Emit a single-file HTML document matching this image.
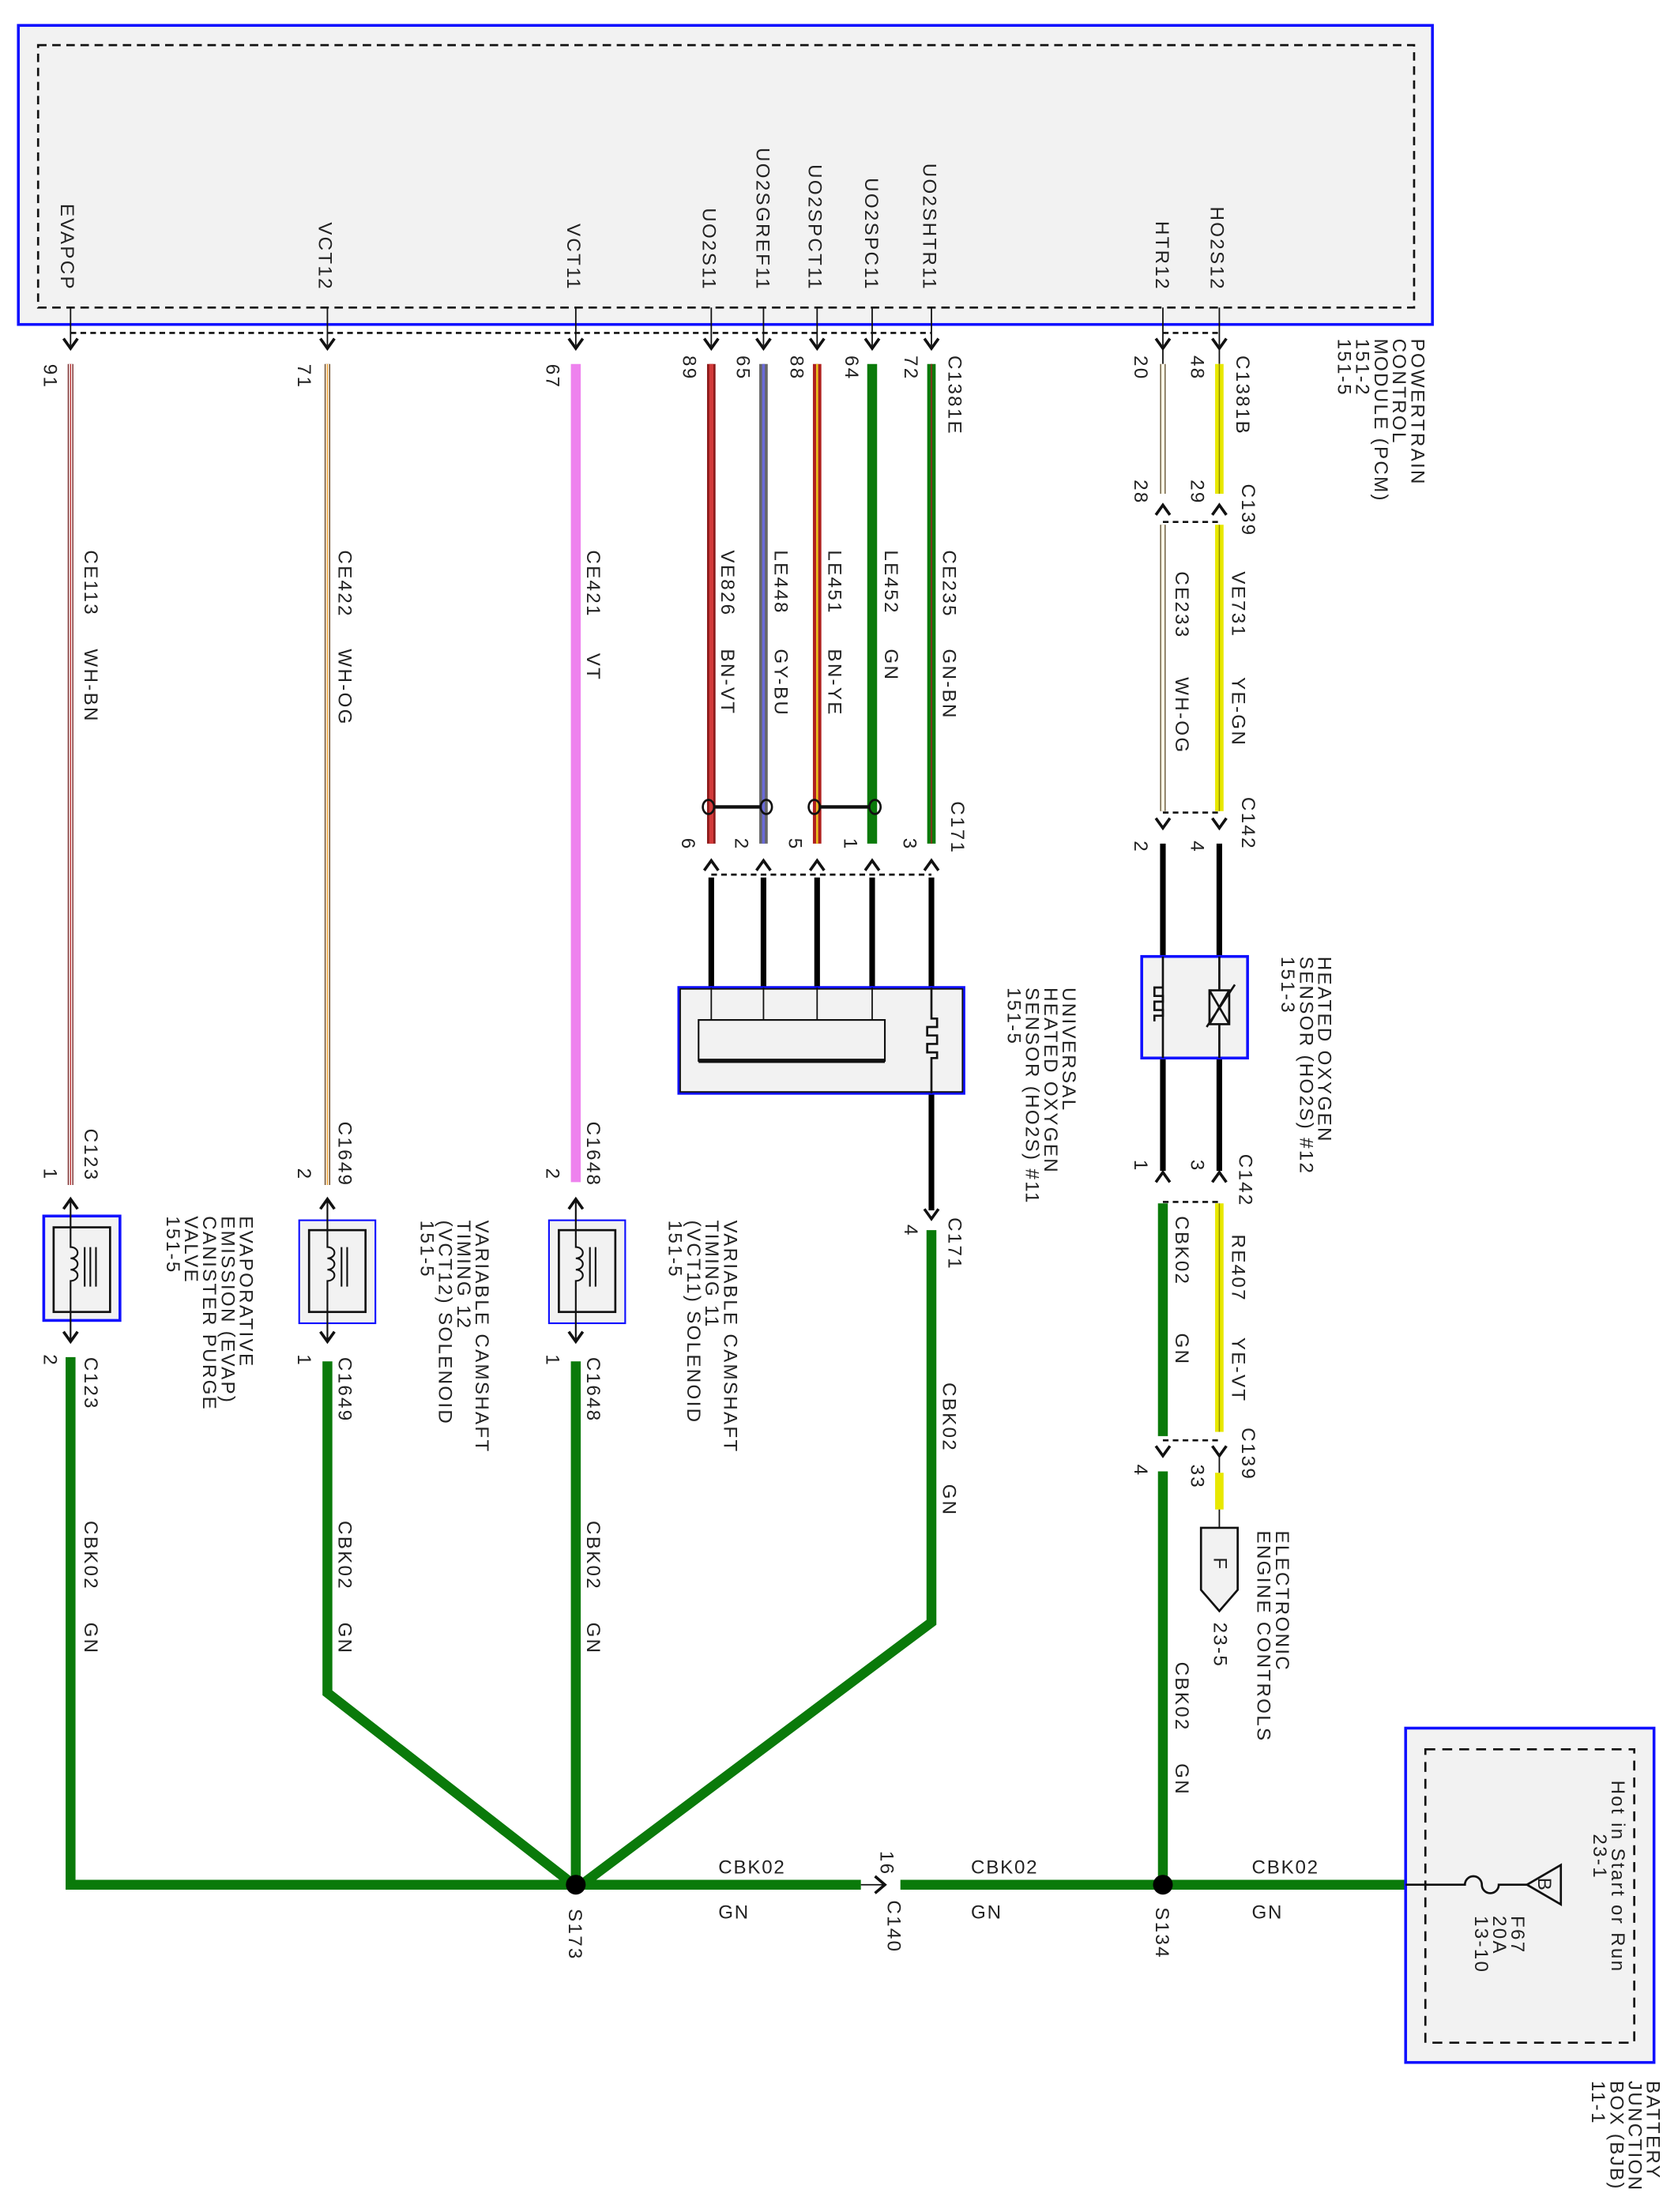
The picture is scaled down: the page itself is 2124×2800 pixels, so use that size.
<!DOCTYPE html>
<html><head><meta charset="utf-8"><style>
html,body{margin:0;padding:0;background:#fff;}
svg{display:block;}
text{font-family:"Liberation Sans",sans-serif;font-size:13.5px;fill:#222;letter-spacing:1.3px;}
text.h{letter-spacing:1px;font-size:13.5px;}
</style></head><body>
<svg width="2124" height="2800" viewBox="0 0 1189 1568" preserveAspectRatio="none" xmlns="http://www.w3.org/2000/svg">
<rect x="13" y="18" width="1002" height="212" fill="#f2f2f2" stroke="#1010ff" stroke-width="2"/>
<rect x="27" y="32" width="975" height="186" fill="none" stroke="#111" stroke-width="1.5" stroke-dasharray="6,4"/>
<g text-anchor="end">
<text transform="translate(43,206) rotate(90)">EVAPCP</text>
<text transform="translate(226,206) rotate(90)">VCT12</text>
<text transform="translate(402,206) rotate(90)">VCT11</text>
<text transform="translate(498,206) rotate(90)">UO2S11</text>
<text transform="translate(536,206) rotate(90)">UO2SGREF11</text>
<text transform="translate(573,206) rotate(90)">UO2SPCT11</text>
<text transform="translate(613,206) rotate(90)">UO2SPC11</text>
<text transform="translate(654,206) rotate(90)">UO2SHTR11</text>
<text transform="translate(819,206) rotate(90)">HTR12</text>
<text transform="translate(858,206) rotate(90)">HO2S12</text>
</g>
<g stroke="#111" stroke-width="1">
<line x1="50" y1="218" x2="50" y2="245"/><line x1="232" y1="218" x2="232" y2="245"/><line x1="408" y1="218" x2="408" y2="245"/>
<line x1="504" y1="218" x2="504" y2="245"/><line x1="541" y1="218" x2="541" y2="245"/><line x1="579" y1="218" x2="579" y2="245"/>
<line x1="618" y1="218" x2="618" y2="245"/><line x1="660" y1="218" x2="660" y2="245"/><line x1="824" y1="218" x2="824" y2="245"/><line x1="864" y1="218" x2="864" y2="245"/>
</g>
<g fill="none" stroke="#111" stroke-width="1.5" stroke-dasharray="4,3">
<line x1="50" y1="236" x2="660" y2="236"/><line x1="824" y1="236" x2="864" y2="236"/>
<line x1="824" y1="370" x2="864" y2="370"/><line x1="824" y1="576" x2="864" y2="576"/>
<line x1="504" y1="620" x2="660" y2="620"/>
<line x1="824" y1="852" x2="864" y2="852"/><line x1="824" y1="1021" x2="864" y2="1021"/>
</g>
<g fill="none" stroke="#111" stroke-width="2">
<path d="M45 240 L50 247 L55 240 M227 240 L232 247 L237 240 M403 240 L408 247 L413 240 M499 240 L504 247 L509 240 M536 240 L541 247 L546 240 M574 240 L579 247 L584 240 M613 240 L618 247 L623 240 M655 240 L660 247 L665 240 M819 240 L824 247 L829 240 M859 240 L864 247 L869 240"/>
<path d="M819 365 L824 358 L829 365 M859 365 L864 358 L869 365"/>
<path d="M819 580 L824 587 L829 580 M859 580 L864 587 L869 580"/>
<path d="M499 617 L504 610 L509 617 M536 617 L541 610 L546 617 M574 617 L579 610 L584 617 M613 617 L618 610 L623 617 M655 617 L660 610 L665 617"/>
<path d="M655 857 L660 864 L665 857"/>
<path d="M819 838 L824 831 L829 838 M859 838 L864 831 L869 838"/>
<path d="M819 1025 L824 1032 L829 1025 M859 1025 L864 1032 L869 1025"/>
<path d="M45 857 L50 850 L55 857 M227 857 L232 850 L237 857 M403 857 L408 850 L413 857"/>
<path d="M45 944 L50 951 L55 944 M227 944 L232 951 L237 944 M403 944 L408 951 L413 944"/>
</g>
<g stroke="#111" stroke-width="1"><line x1="824" y1="247" x2="824" y2="258"/><line x1="864" y1="247" x2="864" y2="258"/></g>
<line x1="50" y1="258" x2="50" y2="840" stroke="#7a2a2a" stroke-width="4"/>
<line x1="50" y1="258" x2="50" y2="840" stroke="#fff" stroke-width="2.4"/>
<line x1="50" y1="258" x2="50" y2="840" stroke="#b33" stroke-width="0.8"/>
<line x1="232" y1="258" x2="232" y2="840" stroke="#6a4a2a" stroke-width="4"/>
<line x1="232" y1="258" x2="232" y2="840" stroke="#fffdf5" stroke-width="2.4"/>
<line x1="232" y1="258" x2="232" y2="840" stroke="#f0a030" stroke-width="0.8"/>
<line x1="408" y1="258" x2="408" y2="838" stroke="#ee82ee" stroke-width="7"/>
<line x1="504" y1="258" x2="504" y2="598" stroke="#8b1a1a" stroke-width="6"/>
<line x1="504" y1="258" x2="504" y2="598" stroke="#d23a3a" stroke-width="3"/>
<line x1="541" y1="258" x2="541" y2="598" stroke="#666" stroke-width="6"/>
<line x1="541" y1="258" x2="541" y2="598" stroke="#6a6ad8" stroke-width="2"/>
<line x1="579" y1="258" x2="579" y2="598" stroke="#b02020" stroke-width="6"/>
<line x1="579" y1="258" x2="579" y2="598" stroke="#e8c020" stroke-width="1.5"/>
<line x1="618" y1="258" x2="618" y2="598" stroke="#0a7a0a" stroke-width="7"/>
<line x1="660" y1="258" x2="660" y2="598" stroke="#0a7a0a" stroke-width="6"/>
<line x1="660" y1="258" x2="660" y2="598" stroke="#7a3a1a" stroke-width="1.2"/>
<line x1="824" y1="258" x2="824" y2="350" stroke="#6a5a3a" stroke-width="4"/>
<line x1="824" y1="258" x2="824" y2="350" stroke="#fff8e8" stroke-width="2.4"/>
<line x1="864" y1="258" x2="864" y2="350" stroke="#e8e800" stroke-width="6"/>
<line x1="864" y1="258" x2="864" y2="350" stroke="#8a8a00" stroke-width="0.8"/>
<line x1="824" y1="372" x2="824" y2="575" stroke="#6a5a3a" stroke-width="4"/>
<line x1="824" y1="372" x2="824" y2="575" stroke="#fff8e8" stroke-width="2.4"/>
<line x1="864" y1="372" x2="864" y2="575" stroke="#e8e800" stroke-width="6"/>
<line x1="864" y1="372" x2="864" y2="575" stroke="#8a8a00" stroke-width="0.8"/>
<g fill="none" stroke="#111" stroke-width="1.5">
<ellipse cx="502" cy="572" rx="4" ry="5"/><ellipse cx="543" cy="572" rx="4" ry="5"/><line x1="506" y1="572" x2="539" y2="572" stroke-width="2.5"/>
<ellipse cx="577" cy="572" rx="4" ry="5"/><ellipse cx="620" cy="572" rx="4" ry="5"/><line x1="581" y1="572" x2="616" y2="572" stroke-width="2.5"/>
</g>
<g stroke="#000" stroke-width="4">
<line x1="504" y1="622" x2="504" y2="700"/><line x1="541" y1="622" x2="541" y2="700"/><line x1="579" y1="622" x2="579" y2="700"/><line x1="618" y1="622" x2="618" y2="700"/><line x1="660" y1="622" x2="660" y2="700"/>
<line x1="660" y1="775" x2="660" y2="858"/>
<line x1="824" y1="598" x2="824" y2="678"/><line x1="864" y1="598" x2="864" y2="678"/>
<line x1="824" y1="750" x2="824" y2="830"/><line x1="864" y1="750" x2="864" y2="830"/>
</g>
<rect x="481" y="700" width="202" height="75" fill="#f2f2f2" stroke="#1010ff" stroke-width="2"/>
<rect x="482" y="701" width="200" height="73" fill="none" stroke="#111" stroke-width="1"/>
<rect x="495" y="723" width="132" height="29" fill="#f2f2f2" stroke="#111" stroke-width="1.2"/>
<line x1="495" y1="752" x2="627" y2="752" stroke="#111" stroke-width="3"/>
<g stroke="#111" stroke-width="1" fill="none">
<line x1="504" y1="700" x2="504" y2="723"/><line x1="541" y1="700" x2="541" y2="723"/><line x1="579" y1="700" x2="579" y2="723"/><line x1="618" y1="700" x2="618" y2="723"/>
<path d="M660 700 L660 722 L664 722 L664 728 L657 728 L657 734 L664 734 L664 740 L657 740 L657 746 L664 746 L664 750 L660 750 L660 775" stroke-width="1.5"/>
</g>
<rect x="809" y="678" width="75" height="72" fill="#f2f2f2" stroke="#1010ff" stroke-width="2"/>
<g stroke="#111" stroke-width="1.5" fill="none">
<line x1="824" y1="678" x2="824" y2="750"/><line x1="864" y1="678" x2="864" y2="750"/>
<path d="M824 700 L818 700 L818 706 L824 706 L824 710 L818 710 L818 716 L824 716 L824 720 L818 720 L818 724"/>
<rect x="857" y="702" width="14" height="24" fill="#f2f2f2"/>
<path d="M857 702 L871 726 M871 702 L857 726 M855 728 L875 698"/>
</g>
<polyline points="660,872 660,1150 412,1336" fill="none" stroke="#0a7a0a" stroke-width="7"/>
<line x1="824" y1="853" x2="824" y2="1018" stroke="#0a7a0a" stroke-width="7"/>
<line x1="864" y1="853" x2="864" y2="1015" stroke="#e8e800" stroke-width="6"/>
<line x1="864" y1="853" x2="864" y2="1015" stroke="#8a8a00" stroke-width="0.8"/>
<line x1="864" y1="1044" x2="864" y2="1070" stroke="#e8e800" stroke-width="6"/>
<line x1="864" y1="1032" x2="864" y2="1044" stroke="#111" stroke-width="1"/>
<line x1="864" y1="1070" x2="864" y2="1083" stroke="#111" stroke-width="1"/>
<path d="M851 1083 L877 1083 L877 1127 L864 1142 L851 1127 Z" fill="#f2f2f2" stroke="#111" stroke-width="1.5"/>
<text transform="translate(860,1104) rotate(90)">F</text>
<line x1="824" y1="1043" x2="824" y2="1336" stroke="#0a7a0a" stroke-width="7"/>
<rect x="31" y="862" width="54" height="74" fill="#f2f2f2" stroke="#1010ff" stroke-width="2"/>
<rect x="38" y="870" width="40" height="60" fill="#f2f2f2" stroke="#111" stroke-width="1.5"/>
<rect x="212" y="865" width="54" height="73" fill="#f2f2f2" stroke="#1010ff" stroke-width="1.2"/>
<rect x="219" y="872" width="40" height="58" fill="#f2f2f2" stroke="#111" stroke-width="1.5"/>
<rect x="389" y="865" width="54" height="73" fill="#f2f2f2" stroke="#1010ff" stroke-width="1.2"/>
<rect x="396" y="872" width="40" height="58" fill="#f2f2f2" stroke="#111" stroke-width="1.5"/>
<g fill="none" stroke="#111" stroke-width="1.2">
<path d="M50 850 L50 884 a5 4 0 0 1 0 8 a5 4 0 0 1 0 8 a5 4 0 0 1 0 8 L50 951"/><path d="M60 884 L60 912 M64 884 L64 912 M68 884 L68 912"/>
<path d="M232 850 L232 884 a5 4 0 0 1 0 8 a5 4 0 0 1 0 8 a5 4 0 0 1 0 8 L232 951"/><path d="M242 884 L242 912 M246 884 L246 912"/>
<path d="M408 850 L408 884 a5 4 0 0 1 0 8 a5 4 0 0 1 0 8 a5 4 0 0 1 0 8 L408 951"/><path d="M418 884 L418 912 M422 884 L422 912"/>
</g>
<g fill="none" stroke="#0a7a0a" stroke-width="7">
<polyline points="50,962 50,1336 404,1336"/>
<polyline points="232,965 232,1200 404,1334"/>
<line x1="408" y1="965" x2="408" y2="1336"/>
<line x1="412" y1="1336" x2="610" y2="1336"/>
<line x1="638" y1="1336" x2="996" y2="1336"/>
</g>
<path d="M620 1330 L627 1336 L620 1342" fill="none" stroke="#111" stroke-width="2"/>
<line x1="610" y1="1336" x2="627" y2="1336" stroke="#111" stroke-width="1"/>
<circle cx="408" cy="1336" r="7" fill="#000"/>
<circle cx="824" cy="1336" r="7" fill="#000"/>
<rect x="996" y="1225" width="176" height="237" fill="#f2f2f2" stroke="#1010ff" stroke-width="2"/>
<rect x="1010" y="1240" width="148" height="208" fill="none" stroke="#111" stroke-width="1.5" stroke-dasharray="7,5"/>
<g fill="none" stroke="#111" stroke-width="1.5">
<path d="M996 1336 L1038 1336 a6 6 0 0 1 12 0 a6 6 0 0 0 12 0 L1082 1336"/>
<path d="M1082 1336 L1106 1322 L1106 1350 Z" fill="#f2f2f2"/>
</g>
<text transform="translate(1090,1331) rotate(90)" font-size="11">B</text>
<g>
<text transform="translate(1000,240) rotate(90)">POWERTRAIN</text>
<text transform="translate(987,240) rotate(90)">CONTROL</text>
<text transform="translate(974,240) rotate(90)">MODULE (PCM)</text>
<text transform="translate(961,240) rotate(90)">151-2</text>
<text transform="translate(948,240) rotate(90)">151-5</text>
<text transform="translate(31,258) rotate(90)">91</text>
<text transform="translate(211,258) rotate(90)">71</text>
<text transform="translate(387,258) rotate(90)">67</text>
<text transform="translate(484,252) rotate(90)">89</text>
<text transform="translate(522,252) rotate(90)">65</text>
<text transform="translate(560,252) rotate(90)">88</text>
<text transform="translate(599,252) rotate(90)">64</text>
<text transform="translate(641,252) rotate(90)">72</text>
<text transform="translate(672,252) rotate(90)">C1381E</text>
<text transform="translate(804,252) rotate(90)">20</text>
<text transform="translate(844,252) rotate(90)">48</text>
<text transform="translate(876,252) rotate(90)">C1381B</text>
<text transform="translate(804,340) rotate(90)">28</text>
<text transform="translate(844,340) rotate(90)">29</text>
<text transform="translate(880,343) rotate(90)">C139</text>
<text transform="translate(60,390) rotate(90)">CE113</text><text transform="translate(60,460) rotate(90)">WH-BN</text>
<text transform="translate(240,390) rotate(90)">CE422</text><text transform="translate(240,460) rotate(90)">WH-OG</text>
<text transform="translate(416,390) rotate(90)">CE421</text><text transform="translate(416,463) rotate(90)">VT</text>
<text transform="translate(511,390) rotate(90)">VE826</text><text transform="translate(511,460) rotate(90)">BN-VT</text>
<text transform="translate(549,390) rotate(90)">LE448</text><text transform="translate(549,460) rotate(90)">GY-BU</text>
<text transform="translate(587,390) rotate(90)">LE451</text><text transform="translate(587,460) rotate(90)">BN-YE</text>
<text transform="translate(627,390) rotate(90)">LE452</text><text transform="translate(627,460) rotate(90)">GN</text>
<text transform="translate(668,390) rotate(90)">CE235</text><text transform="translate(668,460) rotate(90)">GN-BN</text>
<text transform="translate(833,405) rotate(90)">CE233</text><text transform="translate(833,480) rotate(90)">WH-OG</text>
<text transform="translate(873,405) rotate(90)">VE731</text><text transform="translate(873,480) rotate(90)">YE-GN</text>
<text transform="translate(674,568) rotate(90)">C171</text>
<text transform="translate(483,594) rotate(90)">6</text><text transform="translate(521,594) rotate(90)">2</text><text transform="translate(559,594) rotate(90)">5</text><text transform="translate(598,594) rotate(90)">1</text><text transform="translate(640,594) rotate(90)">3</text>
<text transform="translate(880,565) rotate(90)">C142</text>
<text transform="translate(804,596) rotate(90)">2</text><text transform="translate(844,596) rotate(90)">4</text>
<text transform="translate(753,700) rotate(90)">UNIVERSAL</text>
<text transform="translate(740,700) rotate(90)">HEATED OXYGEN</text>
<text transform="translate(727,700) rotate(90)">SENSOR (HO2S) #11</text>
<text transform="translate(714,700) rotate(90)">151-5</text>
<text transform="translate(934,678) rotate(90)">HEATED OXYGEN</text>
<text transform="translate(921,678) rotate(90)">SENSOR (HO2S) #12</text>
<text transform="translate(908,678) rotate(90)">151-3</text>
<text transform="translate(60,800) rotate(90)">C123</text><text transform="translate(31,828) rotate(90)">1</text>
<text transform="translate(240,795) rotate(90)">C1649</text><text transform="translate(211,828) rotate(90)">2</text>
<text transform="translate(416,795) rotate(90)">C1648</text><text transform="translate(387,828) rotate(90)">2</text>
<text transform="translate(672,863) rotate(90)">C171</text><text transform="translate(641,868) rotate(90)">4</text>
<text transform="translate(878,818) rotate(90)">C142</text>
<text transform="translate(804,822) rotate(90)">1</text><text transform="translate(844,822) rotate(90)">3</text>
<text transform="translate(170,862) rotate(90)">EVAPORATIVE</text>
<text transform="translate(157,862) rotate(90)">EMISSION (EVAP)</text>
<text transform="translate(144,862) rotate(90)">CANISTER PURGE</text>
<text transform="translate(131,862) rotate(90)">VALVE</text>
<text transform="translate(118,862) rotate(90)">151-5</text>
<text transform="translate(337,865) rotate(90)">VARIABLE CAMSHAFT</text>
<text transform="translate(324,865) rotate(90)">TIMING 12</text>
<text transform="translate(311,865) rotate(90)">(VCT12) SOLENOID</text>
<text transform="translate(298,865) rotate(90)">151-5</text>
<text transform="translate(513,865) rotate(90)">VARIABLE CAMSHAFT</text>
<text transform="translate(500,865) rotate(90)">TIMING 11</text>
<text transform="translate(487,865) rotate(90)">(VCT11) SOLENOID</text>
<text transform="translate(474,865) rotate(90)">151-5</text>
<text transform="translate(60,962) rotate(90)">C123</text><text transform="translate(31,960) rotate(90)">2</text>
<text transform="translate(240,962) rotate(90)">C1649</text><text transform="translate(211,960) rotate(90)">1</text>
<text transform="translate(416,962) rotate(90)">C1648</text><text transform="translate(387,960) rotate(90)">1</text>
<text transform="translate(60,1078) rotate(90)">CBK02</text><text transform="translate(60,1150) rotate(90)">GN</text>
<text transform="translate(240,1078) rotate(90)">CBK02</text><text transform="translate(240,1150) rotate(90)">GN</text>
<text transform="translate(416,1078) rotate(90)">CBK02</text><text transform="translate(416,1150) rotate(90)">GN</text>
<text transform="translate(668,980) rotate(90)">CBK02</text><text transform="translate(668,1052) rotate(90)">GN</text>
<text transform="translate(833,862) rotate(90)">CBK02</text><text transform="translate(833,945) rotate(90)">GN</text>
<text transform="translate(873,875) rotate(90)">RE407</text><text transform="translate(873,948) rotate(90)">YE-VT</text>
<text transform="translate(880,1012) rotate(90)">C139</text>
<text transform="translate(804,1038) rotate(90)">4</text><text transform="translate(844,1038) rotate(90)">33</text>
<text transform="translate(904,1085) rotate(90)">ELECTRONIC</text>
<text transform="translate(891,1085) rotate(90)">ENGINE CONTROLS</text>
<text transform="translate(860,1150) rotate(90)">23-5</text>
<text transform="translate(833,1178) rotate(90)">CBK02</text><text transform="translate(833,1250) rotate(90)">GN</text>
<text transform="translate(624,1312) rotate(90)">16</text>
<text transform="translate(403,1353) rotate(90)">S173</text>
<text transform="translate(629,1347) rotate(90)">C140</text>
<text transform="translate(819,1352) rotate(90)">S134</text>
<text transform="translate(1142,1262) rotate(90)">Hot in Start or Run</text>
<text transform="translate(1129,1300) rotate(90)">23-1</text>
<text transform="translate(1071,1358) rotate(90)">F67</text>
<text transform="translate(1058,1358) rotate(90)">20A</text>
<text transform="translate(1045,1358) rotate(90)">13-10</text>
<text transform="translate(1167,1475) rotate(90)">BATTERY</text>
<text transform="translate(1154,1475) rotate(90)">JUNCTION</text>
<text transform="translate(1141,1475) rotate(90)">BOX (BJB)</text>
<text transform="translate(1128,1475) rotate(90)">11-1</text>
</g>
<text class="h" x="509" y="1328">CBK02</text><text class="h" x="509" y="1360">GN</text>
<text class="h" x="688" y="1328">CBK02</text><text class="h" x="688" y="1360">GN</text>
<text class="h" x="887" y="1328">CBK02</text><text class="h" x="887" y="1360">GN</text>
</svg>
</body></html>
